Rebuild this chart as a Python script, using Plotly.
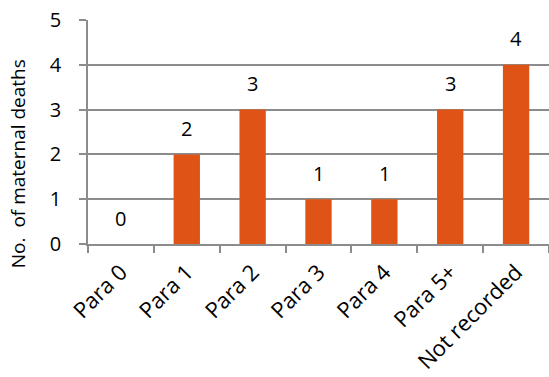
import plotly.graph_objects as go

categories = ["Para 0", "Para 1", "Para 2", "Para 3", "Para 4", "Para 5+", "Not recorded"]
deaths = [0, 2, 3, 1, 1, 3, 4]
y_ticks = [0, 1, 2, 3, 4, 5]

bar_color = "#DF5416"
axis_color = "#8C8C8C"
grid_color = "#8C8C8C"
font_family = "Open Sans"

fig = go.Figure(
    go.Bar(
        x=categories,
        y=deaths,
        marker=dict(color=bar_color, line=dict(width=0)),
        hoverinfo="x+y",
    )
)

# value labels floating above each bar
for cat, val in zip(categories, deaths):
    fig.add_annotation(
        x=cat,
        y=val,
        text=str(val),
        showarrow=False,
        xanchor="center",
        yanchor="middle",
        yshift=26,
        font=dict(family=font_family, size=20, color="#000000"),
    )

fig.update_layout(
    width=549,
    height=377,
    margin=dict(l=88, r=0, t=20, b=133),
    paper_bgcolor="white",
    plot_bgcolor="white",
    bargap=0.6,
    showlegend=False,
    font=dict(family=font_family, size=20, color="#000000"),
)

fig.update_xaxes(
    type="category",
    range=[-0.5, 6.5],
    automargin=False,
    tickson="boundaries",
    ticks="outside",
    ticklen=7,
    tickcolor=axis_color,
    tickwidth=1.5,
    showline=True,
    linecolor=axis_color,
    linewidth=1.5,
    showgrid=False,
    tickangle=-45,
    ticklabelstandoff=5,
    tickfont=dict(family=font_family, size=22, color="#000000"),
)

fig.update_yaxes(
    range=[0, 5],
    automargin=False,
    tickvals=y_ticks,
    ticks="outside",
    ticklen=7,
    tickcolor=axis_color,
    tickwidth=1.5,
    showline=True,
    linecolor=axis_color,
    linewidth=1.5,
    showgrid=True,
    gridcolor=grid_color,
    gridwidth=1.5,
    zeroline=False,
    tickfont=dict(family=font_family, size=20, color="#000000"),
    ticklabelstandoff=14,
)

fig.add_annotation(
    text="No.  of maternal deaths",
    xref="paper",
    yref="paper",
    x=-0.15,
    y=0.36,
    xanchor="center",
    yanchor="middle",
    textangle=-90,
    showarrow=False,
    font=dict(family=font_family, size=19, color="#000000"),
)

fig.write_html("out.html")
